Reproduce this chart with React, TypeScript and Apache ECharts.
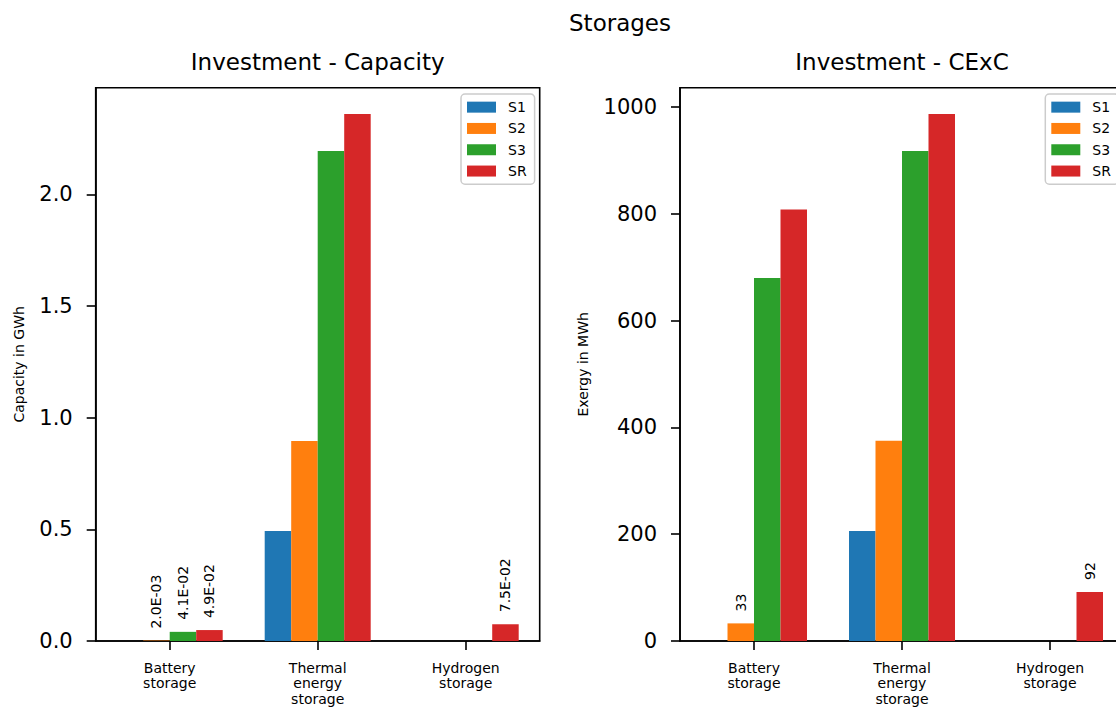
import React, { useEffect, useRef } from "react";
import * as echarts from "echarts";

// Storage categories shown on both panels
const categories = ["Battery\nstorage", "Thermal\nenergy\nstorage", "Hydrogen\nstorage"];
const scenarioNames = ["S1", "S2", "S3", "SR"];
const scenarioColors = ["#1f77b4", "#ff7f0e", "#2ca02c", "#d62728"];

// Installed capacity in GWh per scenario (Battery, Thermal, Hydrogen)
const capacityS1 = [0, 0.493, 0];
const capacityS2 = [0.002, 0.896, 0];
const capacityS3 = [0.041, 2.194, 0];
const capacitySR = [0.049, 2.36, 0.075];

// Cumulative exergy consumption in MWh per scenario (Battery, Thermal, Hydrogen)
const cexcS1 = [0, 206, 0];
const cexcS2 = [33, 375, 0];
const cexcS3 = [680, 918, 0];
const cexcSR = [808, 987, 92];

const capacityTicks = [0, 0.5, 1.0, 1.5, 2.0];
const cexcTicks = [0, 200, 400, 600, 800, 1000];

const FONT = "DejaVu Sans";

// matplotlib-style scientific label, e.g. 2.0E-03
function sci(v: number): string {
  const [m, e] = v.toExponential(1).split("e");
  const sign = e[0] === "-" ? "-" : "+";
  const digits = e.replace(/^[+-]/, "").padStart(2, "0");
  return `${m}E${sign}${digits}`;
}

export default function App() {
  const ref = useRef<HTMLDivElement>(null);

  useEffect(() => {
    if (!ref.current) return;
    const chart = echarts.init(ref.current, null, { renderer: "svg" });

    const capacitySets = [capacityS1, capacityS2, capacityS3, capacitySR];
    const cexcSets = [cexcS1, cexcS2, cexcS3, cexcSR];
    const capMax = Math.max(...capacitySets.flat());
    const cexcMax = Math.max(...cexcSets.flat());

    const makeSeries = (
      sets: number[][],
      axisIndex: number,
      max: number,
      fmt: (v: number) => string
    ) =>
      sets.map((vals, i) => ({
        type: "bar",
        name: scenarioNames[i],
        xAxisIndex: axisIndex,
        yAxisIndex: axisIndex,
        barWidth: 26.5,
        barGap: "0%",
        itemStyle: { color: scenarioColors[i] },
        data: vals.map((v) => ({
          value: v,
          label: { show: v > 0 && v < max * 0.1 },
        })),
        label: {
          position: "top",
          rotate: 90,
          align: "left",
          verticalAlign: "middle",
          distance: 12,
          fontFamily: FONT,
          fontSize: 14,
          color: "#000",
          formatter: (p: any) => fmt(p.value as number),
        },
      }));

    const gridBox = { top: 87.7, height: 553.3, width: 444 };
    const spine = { lineStyle: { color: "#000", width: 1.6 } };
    const xAxisBase = {
      type: "category",
      data: categories,
      axisLine: { show: true, ...spine },
      axisTick: { show: true, alignWithLabel: true, length: 9, lineStyle: { color: "#000", width: 1.6 } },
      axisLabel: { fontFamily: FONT, fontSize: 14, lineHeight: 15.6, color: "#000", margin: 19, interval: 0 },
      splitLine: { show: false },
    };
    const yAxisBase = {
      type: "value",
      min: 0,
      axisLine: { show: true, ...spine },
      axisTick: { show: true, length: 9, lineStyle: { color: "#000", width: 1.6 } },
      splitLine: { show: false },
      nameLocation: "middle",
      nameTextStyle: { fontFamily: FONT, fontSize: 14, color: "#000" },
    };

    const legendBase = {
      orient: "vertical",
      top: 94,
      data: scenarioNames,
      selectedMode: false,
      icon: "rect",
      itemWidth: 29,
      itemHeight: 11,
      itemGap: 7,
      padding: [6, 8, 6, 6],
      borderColor: "#cccccc",
      borderWidth: 1.5,
      borderRadius: 4,
      backgroundColor: "rgba(255,255,255,0.8)",
      textStyle: { fontFamily: FONT, fontSize: 14, lineHeight: 14.3, color: "#000", padding: [0, 0, 0, 7] },
    };

    const titleText = (text: string, x: number, y: number) => ({
      type: "text",
      x,
      y,
      style: {
        text,
        fontFamily: FONT,
        fontSize: 23,
        fill: "#000",
        align: "center",
        verticalAlign: "middle",
      },
    });

    chart.setOption({
      animation: false,
      backgroundColor: "#fff",
      textStyle: { fontFamily: FONT },
      graphic: [
        titleText("Storages", 620, 23),
        titleText("Investment - Capacity", 317.7, 62.2),
        titleText("Investment - CExC", 902, 62.2),
      ],
      grid: [
        { left: 95.7, ...gridBox, show: true, borderColor: "#000", borderWidth: 1.6 },
        { left: 680, ...gridBox, show: true, borderColor: "#000", borderWidth: 1.6 },
      ],
      legend: [
        { ...legendBase, left: 461 },
        { ...legendBase, left: 1045.3 },
      ],
      xAxis: [
        { ...xAxisBase, gridIndex: 0 },
        { ...xAxisBase, gridIndex: 1 },
      ],
      yAxis: [
        {
          ...yAxisBase,
          gridIndex: 0,
          max: capMax * 1.05,
          interval: capacityTicks[1] - capacityTicks[0],
          name: "Capacity in GWh",
          nameGap: 70,
          axisLabel: {
            fontFamily: FONT,
            fontSize: 21,
            color: "#000",
            margin: 23,
            showMaxLabel: false,
            formatter: (v: number) => (capacityTicks.includes(v) ? v.toFixed(1) : ""),
          },
        },
        {
          ...yAxisBase,
          gridIndex: 1,
          max: cexcMax * 1.05,
          interval: cexcTicks[1] - cexcTicks[0],
          name: "Exergy in MWh",
          nameGap: 90,
          axisLabel: {
            fontFamily: FONT,
            fontSize: 21,
            color: "#000",
            margin: 23,
            showMaxLabel: false,
            formatter: (v: number) => (cexcTicks.includes(v) ? String(v) : ""),
          },
        },
      ],
      series: [
        ...makeSeries(capacitySets, 0, capMax, sci),
        ...makeSeries(cexcSets, 1, cexcMax, (v) => String(Math.round(v))),
      ],
    });

    return () => chart.dispose();
  }, []);

  // The figure is wider than the viewport; its right edge is cut off.
  return (
    <div
      style={{
        position: "fixed",
        left: 0,
        top: 0,
        width: 1116,
        height: 707,
        overflow: "hidden",
        background: "#fff",
      }}
    >
      <div ref={ref} style={{ width: 1240, height: 707 }} />
    </div>
  );
}
